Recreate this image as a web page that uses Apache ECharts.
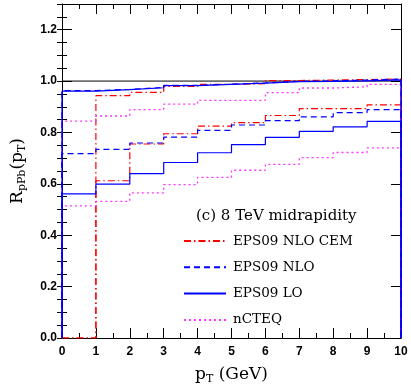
<!DOCTYPE html>
<html>
<head>
<meta charset="utf-8">
<script src="https://cdn.jsdelivr.net/npm/echarts@6/dist/echarts.min.js"></script>
<style>
html,body{margin:0;padding:0;background:#fff;}
#chart{width:411px;height:390px;}
</style>
</head>
<body>
<div id="chart"></div>
<script>
// bin edges in pT (GeV)
const binEdges = [0, 1, 2, 3, 4, 5, 6, 7, 8, 9, 10];
// per-bin values (upper/lower bounds of each band)
const cemHi  = [0, 0.943, 0.956, 0.979, 0.987, 0.990, 1.002, 1.004, 1.006, 1.008];
const cemLo  = [0, 0.612, 0.755, 0.795, 0.825, 0.838, 0.866, 0.893, 0.893, 0.907];
const nloHi  = [0.963, 0.968, 0.975, 0.983, 0.988, 0.993, 0.999, 1.001, 1.004, 1.008];
const nloLo  = [0.718, 0.734, 0.759, 0.782, 0.808, 0.829, 0.846, 0.861, 0.877, 0.889];
const loHi   = [0.961, 0.967, 0.974, 0.982, 0.987, 0.992, 0.998, 0.999, 1.001, 1.005];
const loLo   = [0.561, 0.599, 0.640, 0.683, 0.721, 0.753, 0.781, 0.804, 0.822, 0.843];
const cteqHi = [0.844, 0.864, 0.889, 0.910, 0.925, 0.925, 0.955, 0.973, 0.978, 0.987];
const cteqLo = [0.514, 0.532, 0.565, 0.597, 0.625, 0.653, 0.676, 0.702, 0.722, 0.740];
const refLine = [[0, 1.0], [10, 1.0]];
const names = ['EPS09 NLO CEM', 'EPS09 NLO', 'EPS09 LO', 'nCTEQ'];
const labelText = '(c) 8 TeV midrapidity';

function hist(vals) {
  const pts = [[binEdges[0], 0]];
  for (let i = 0; i < vals.length; i++) pts.push([binEdges[i], vals[i]]);
  pts.push([binEdges[binEdges.length - 1], vals[vals.length - 1]]);
  pts.push([binEdges[binEdges.length - 1], 0]);
  return pts;
}

const RED = '#ff0000', BLUE = '#0000ff', MAG = '#ff33ff';
const styles = {
  'EPS09 NLO CEM': {color: RED, type: [7, 3, 1.5, 3], width: 1.2},
  'EPS09 NLO': {color: BLUE, type: [6, 4], width: 1.2},
  'EPS09 LO': {color: BLUE, type: 'solid', width: 1.2},
  'nCTEQ': {color: MAG, type: [2, 3], width: 1.3}
};
function mk(name, vals, z) {
  const s = styles[name];
  return {
    name: name, type: 'line', step: 'end', data: hist(vals), symbol: 'none',
    xAxisIndex: 0, yAxisIndex: 0, z: z, silent: true, animation: false,
    color: s.color,
    lineStyle: {color: s.color, type: s.type, width: s.width}
  };
}

const chart = echarts.init(document.getElementById('chart'), null, {renderer: 'canvas'});
const labelFont = {fontFamily: 'Liberation Sans', fontWeight: 'bold', fontSize: 12, color: '#000'};
const serif = 'DejaVu Serif';

const xBase = {
  type: 'value', min: 0, max: 10, interval: 1,
  splitLine: {show: false},
  axisLine: {show: true, onZero: false, lineStyle: {color: '#000', width: 1}},
  axisTick: {show: true, inside: true, length: 10, lineStyle: {color: '#000', width: 1}},
  minorTick: {show: true, splitNumber: 2, length: 5, lineStyle: {color: '#000', width: 1}}
};
const yMajor = {
  type: 'value', min: 0, max: 1.3, interval: 0.2,
  splitLine: {show: false},
  axisLine: {show: true, onZero: false, lineStyle: {color: '#000', width: 1}},
  axisTick: {show: true, inside: true, length: 10, lineStyle: {color: '#000', width: 1}}
};
const yMinor = {
  type: 'value', min: 0, max: 1.3, interval: 0.05,
  splitLine: {show: false},
  axisLine: {show: false},
  axisLabel: {show: false},
  axisTick: {show: true, inside: true, length: 5, lineStyle: {color: '#000', width: 1}}
};

chart.setOption({
  backgroundColor: '#fff',
  animation: false,
  grid: {left: 62, right: 10, top: 4, bottom: 47, containLabel: false},
  title: {
    text: labelText, left: 191, top: 204,
    textStyle: {fontFamily: serif, fontWeight: 'normal', fontSize: 15, color: '#000'}
  },
  legend: {
    data: names, orient: 'vertical', left: 178, top: 229,
    itemWidth: 42, itemHeight: 14, itemGap: 12.3,
    itemStyle: {opacity: 0},
    textStyle: {fontFamily: serif, fontSize: 13.5, color: '#000', padding: [0, 0, 0, 2]},
    selectedMode: false
  },
  xAxis: [
    Object.assign({}, xBase, {
      position: 'bottom',
      axisLabel: Object.assign({margin: 8}, labelFont),
      name: '{p|p}{s|T}{p| (GeV)}', nameLocation: 'middle', nameGap: 26,
      nameTextStyle: {
        rich: {
          p: {fontFamily: serif, fontSize: 17, color: '#000'},
          s: {fontFamily: serif, fontSize: 11, color: '#000', padding: [10, 0, 0, 0]}
        }
      }
    }),
    Object.assign({}, xBase, {position: 'top', axisLabel: {show: false}})
  ],
  yAxis: [
    Object.assign({}, yMajor, {
      position: 'left',
      axisLabel: Object.assign({margin: 5, showMaxLabel: false,
        formatter: v => (Math.abs(v - 1.3) < 1e-6 ? '' : v.toFixed(1))}, labelFont),
      name: '{p|R}{s|pPb}{p|(p}{s|T}{p|)}', nameLocation: 'middle', nameGap: 34, nameRotate: 90,
      nameTextStyle: {
        rich: {
          p: {fontFamily: serif, fontSize: 17, color: '#000'},
          s: {fontFamily: serif, fontSize: 11, color: '#000', padding: [10, 0, 0, 0]}
        }
      }
    }),
    Object.assign({}, yMajor, {position: 'right', axisLabel: {show: false}}),
    Object.assign({}, yMinor, {position: 'left'}),
    Object.assign({}, yMinor, {position: 'right'})
  ],
  series: [
    {
      name: 'ref', type: 'line', data: refLine, symbol: 'none', silent: true,
      xAxisIndex: 0, yAxisIndex: 0, z: 1,
      lineStyle: {color: '#000', width: 1}
    },
    mk('EPS09 NLO CEM', cemHi, 2),
    mk('EPS09 NLO CEM', cemLo, 2),
    mk('nCTEQ', cteqHi, 3),
    mk('nCTEQ', cteqLo, 3),
    mk('EPS09 NLO', nloHi, 4),
    mk('EPS09 NLO', nloLo, 4),
    mk('EPS09 LO', loHi, 5),
    mk('EPS09 LO', loLo, 5)
  ]
});
</script>
</body>
</html>
